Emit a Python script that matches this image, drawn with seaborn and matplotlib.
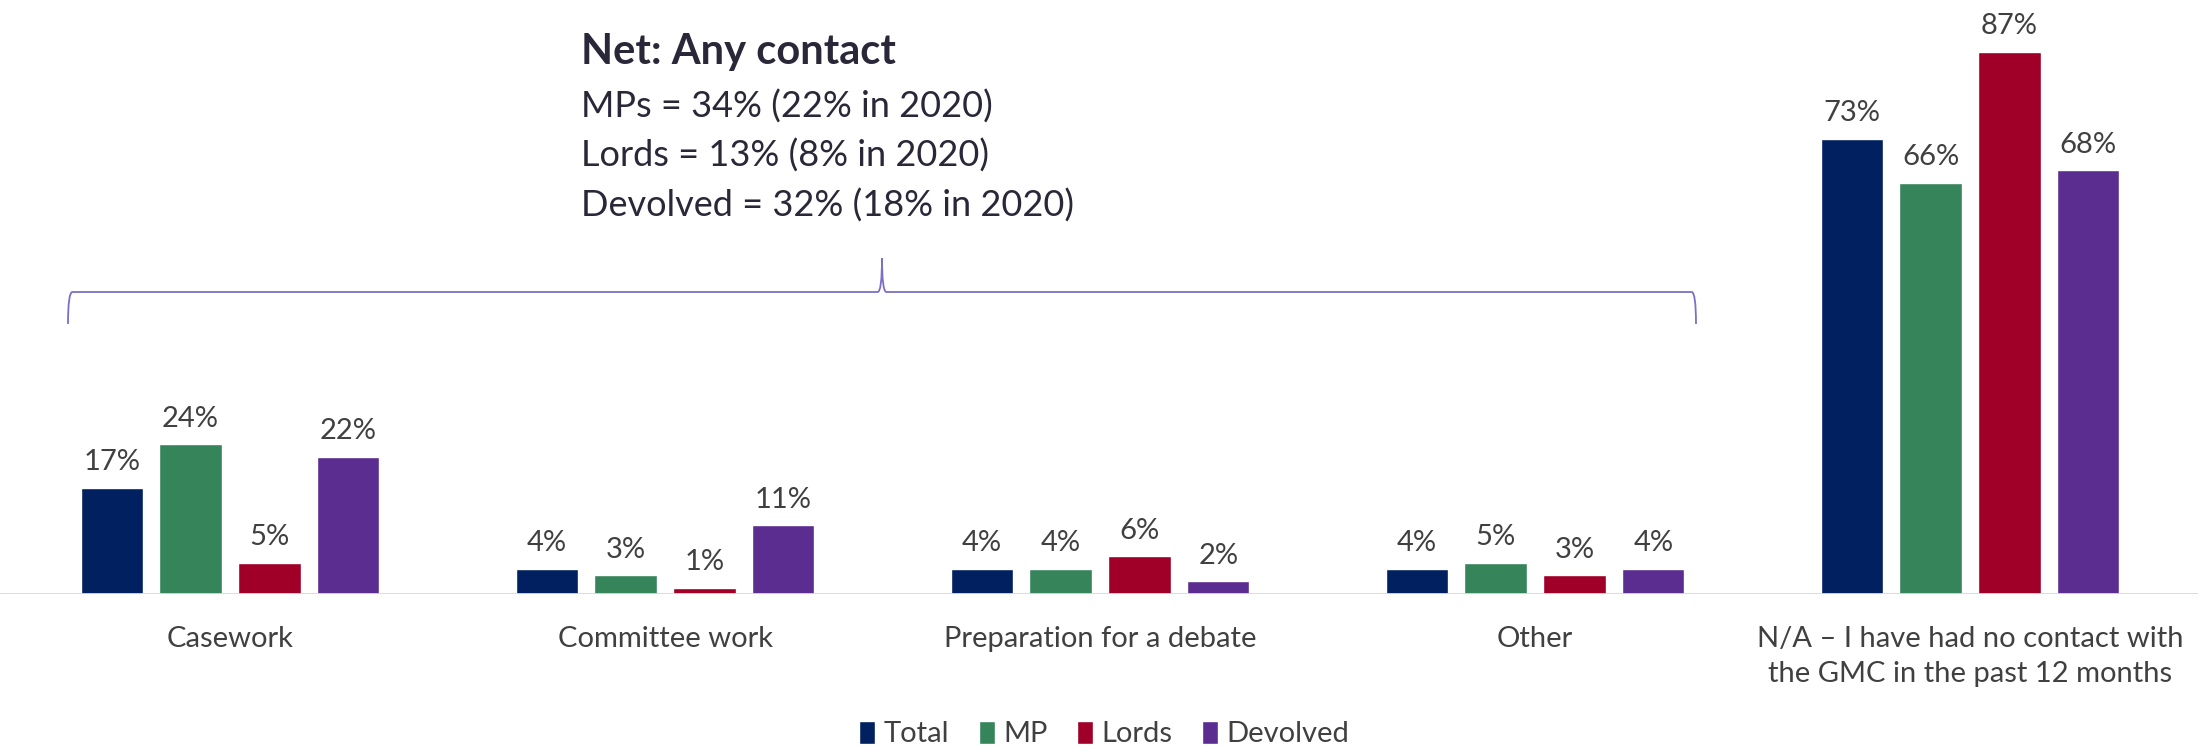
import numpy as np
import pandas as pd
import seaborn as sns
import matplotlib.pyplot as plt
from matplotlib.path import Path
from matplotlib.patches import PathPatch

sns.set_style("white")
plt.rcParams["font.family"] = ["Lato", "DejaVu Sans"]

# --------------------------
# Data
# --------------------------
categories = ["Casework", "Committee work", "Preparation for a debate", "Other",
              "N/A \u2013 I have had no contact with\nthe GMC in the past 12 months"]
groups = ["Total", "MP", "Lords", "Devolved"]
total = [17, 4, 4, 4, 73]
mp = [24, 3, 4, 5, 66]
lords = [5, 1, 6, 3, 87]
devolved = [22, 11, 2, 4, 68]
net_lines = ["MPs = 34% (22% in 2020)", "Lords = 13% (8% in 2020)", "Devolved = 32% (18% in 2020)"]

colors = ["#002060", "#36855A", "#A00028", "#5C2D91"]

df = pd.DataFrame({
    "category": np.repeat(categories, len(groups)),
    "group": groups * len(categories),
    "value": [v for row in zip(total, mp, lords, devolved) for v in row],
})

fig = plt.figure(figsize=(22.09, 7.46), dpi=100)
ax = fig.add_axes([0.0, 0.204, 0.995, 0.796])

sns.barplot(data=df, x="category", y="value", hue="group", palette=colors,
            saturation=1, width=0.725, gap=0.21, ax=ax, legend=True)

ax.set_ylim(0, 95.3)
# category 0 centred at 230 px, 435 px between categories
ax.set_xlim(-230 / 435, (0.995 * 2209 - 230) / 435)
ax.set_xlabel("")
ax.set_ylabel("")
ax.set_yticks([])
sns.despine(ax=ax, left=True, bottom=True)
ax.axhline(0, color="#D9D9D9", lw=2)
ax.tick_params(axis="x", length=0, pad=23, labelsize=21, labelcolor="#404040")
for lab in ax.get_xticklabels():
    lab.set_linespacing(1.45)

for cont in ax.containers:
    ax.bar_label(cont, labels=[f"{int(v)}%" for v in cont.datavalues],
                 padding=9, fontsize=21, color="#404040")

leg = ax.legend(loc="center", bbox_to_anchor=(0.5, 0.016), bbox_transform=fig.transFigure,
                ncol=4, frameon=False, fontsize=21, handlelength=0.55, handleheight=0.85,
                handletextpad=0.3, columnspacing=1.0, labelcolor="#404040")

# --------------------------
# Net annotation
# --------------------------
fig.text(0.263, 0.93, "Net: Any contact", fontsize=30, fontweight="bold",
         color="#2A2838", va="center")
for i, line in enumerate(net_lines):
    fig.text(0.263, 0.857 - i * 0.066, line, fontsize=26, color="#2A2838", va="center")

# brace over the first four categories
x0, x1, xm = 68 / 2209, 1696 / 2209, 882 / 2209
yb, yh, yt = 1 - 292 / 746, 1 - 324 / 746, 1 - 258 / 746
verts = [(x0, yh), (x0, yb), (x0 + 0.002, yb),
         (xm - 0.002, yb), (xm, yb), (xm, yt),
         (xm, yb), (xm + 0.002, yb),
         (x1 - 0.002, yb), (x1, yb), (x1, yh)]
codes = [Path.MOVETO, Path.CURVE3, Path.CURVE3,
         Path.LINETO, Path.CURVE3, Path.CURVE3,
         Path.CURVE3, Path.CURVE3,
         Path.LINETO, Path.CURVE3, Path.CURVE3]
fig.patches.append(PathPatch(Path(verts, codes), transform=fig.transFigure,
                             fill=False, edgecolor="#7B6FC8", lw=1.3))

fig.savefig("out.png", dpi=100)
